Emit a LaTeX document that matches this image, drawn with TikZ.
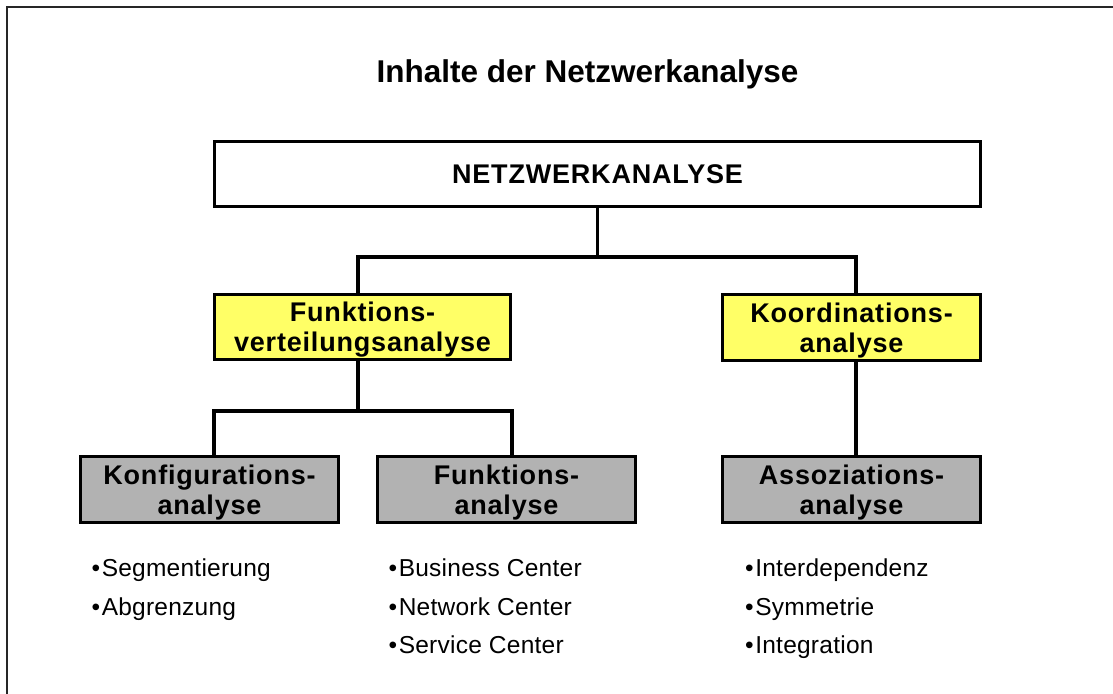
\documentclass[tikz,border=0pt]{standalone}
\usepackage{fontspec}
\setmainfont{Liberation Sans}
\newfontfamily\boxfont[LetterSpace=3]{Liberation Sans}
\newfontfamily\itemfont[LetterSpace=1]{Liberation Sans}
\definecolor{boxyellow}{HTML}{FFFF66}
\definecolor{boxgray}{HTML}{B2B2B2}

\begin{document}
\begin{tikzpicture}[x=1pt,y=-1pt,
  box/.style={draw=black, line width=3.5pt, minimum width=258pt, minimum height=66pt,
    inner sep=0pt, align=center, text depth=0pt,
    font=\boxfont\bfseries\fontsize{27}{30}\selectfont},
  yellowbox/.style={box, fill=boxyellow},
  graybox/.style={box, fill=boxgray},
  conn/.style={line width=3.5pt, draw=black},
  bulletline/.style={anchor=base west, inner sep=0pt,
    font=\itemfont\fontsize{24.5}{29}\selectfont},
  titletext/.style={anchor=base, inner sep=0pt,
    font=\bfseries\fontsize{31.5}{36}\selectfont}]

% page area and outer frame
\clip (0,0) rectangle (1113,693);
\fill[white] (0,0) rectangle (1113,693);
\draw[line width=1.5pt, draw=black!85] (7,7) rectangle (1130,710);

% heading
\node[titletext] (title) at (587.5,82) {Inhalte der Netzwerkanalyse};

% hierarchy boxes
\node[box, fill=white, minimum width=766pt, minimum height=65pt] (top) at (597.5,174) {NETZWERKANALYSE};
\node[yellowbox, minimum width=296pt, minimum height=65pt] (fva) at (362.5,327) {Funktions-\\verteilungsanalyse};
\node[yellowbox] (koa) at (851.5,327.5) {Koordinations-\\analyse};
\node[graybox] (kfa) at (209.5,489.5) {Konfigurations-\\analyse};
\node[graybox] (fka) at (506.5,489.5) {Funktions-\\analyse};
\node[graybox] (asa) at (851.5,489.5) {Assoziations-\\analyse};

% connectors
\draw[conn] (top.south) -- ++(0,48.5) -| ([xshift=-4.5pt]fva.north);
\draw[conn] (top.south) -- ++(0,48.5) -| ([xshift=4.5pt]koa.north);
\draw[conn] ([xshift=-4.5pt]fva.south) -- ++(0,49.5) -| ([xshift=4.5pt]kfa.north);
\draw[conn] ([xshift=-4.5pt]fva.south) -- ++(0,49.5) -| ([xshift=5.5pt]fka.north);
\draw[conn] ([xshift=4.5pt]koa.south) -- ([xshift=4.5pt]asa.north);

% bullet lists
\node[bulletline] (k1) at (91.5,576) {\textbullet\kern1.5pt Segmentierung};
\node[bulletline] (k2) at (91.5,615) {\textbullet\kern1.5pt Abgrenzung};

\node[bulletline] (f1) at (388.5,576) {\textbullet\kern1.5pt Business Center};
\node[bulletline] (f2) at (388.5,615) {\textbullet\kern1.5pt Network Center};
\node[bulletline] (f3) at (388.5,653) {\textbullet\kern1.5pt Service Center};

\node[bulletline] (a1) at (745,576) {\textbullet\kern1.5pt Interdependenz};
\node[bulletline] (a2) at (745,615) {\textbullet\kern1.5pt Symmetrie};
\node[bulletline] (a3) at (745,653) {\textbullet\kern1.5pt Integration};
\end{tikzpicture}
\end{document}
